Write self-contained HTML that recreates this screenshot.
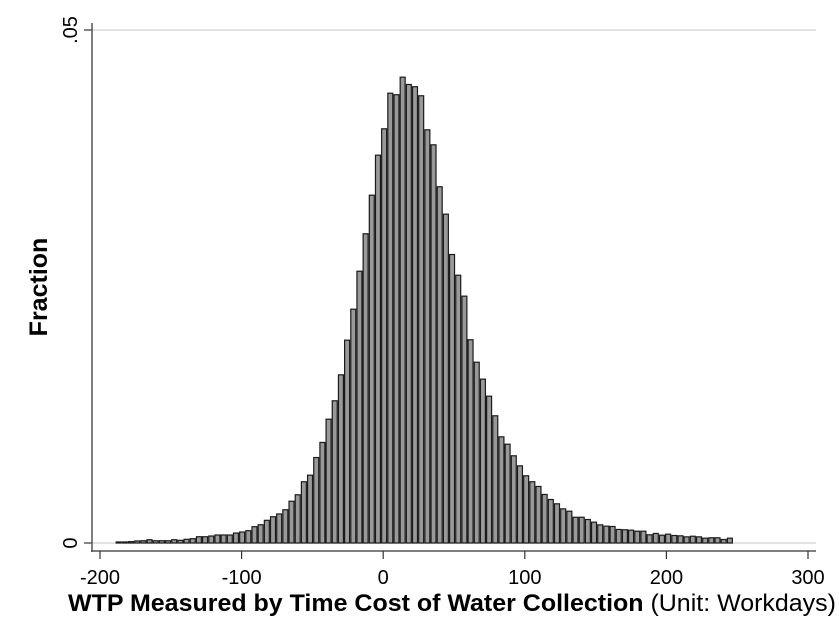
<!DOCTYPE html>
<html><head><meta charset="utf-8"><style>
body{margin:0;background:#fff;}
svg{display:block;font-family:"Liberation Sans",sans-serif;}
</style></head><body>
<svg id="chart" width="839" height="643" viewBox="0 0 839 643">
<rect x="0" y="0" width="839" height="643" fill="#fff"/>
<g id="grid"></g>
<g id="bars"></g>
<g id="axes"></g>
<text x="68" y="611" font-size="24.5" text-anchor="start" textLength="768" lengthAdjust="spacingAndGlyphs"><tspan font-weight="bold">WTP Measured by Time Cost of Water Collection</tspan> (Unit: Workdays)</text>
<text transform="translate(47,287) rotate(-90)" font-size="25" font-weight="bold" text-anchor="middle">Fraction</text>
</svg>
<script>
const binStart = -189;
const binWidth = 4.36;
const fractions = [.0001,.0001,.00013,.0002,.00022,.00032,.00022,.00022,.00022,.00032,.00026,.00036,.00042,.00061,.00061,.00068,.00078,.00078,.00078,.00097,.00107,.0012,.00159,.00178,.00221,.00256,.00283,
.00324,.00407,.0047,.00597,.00661,.00833,.0098,.01207,.01386,.01639,.01977,.02279,.02649,.03014,.0339,.0378,.04037,.04384,.04369,
.0454,.04469,.04447,.04359,.04027,.03881,.03472,.03205,.02812,.0261,.02406,.01981,.01762,.01597,.01431,.0124,.01035,.00963,.0085,.00752,.00655,
.00597,.00551,.00473,.00424,.00382,.00333,.0031,.00251,.00251,.00229,.00203,.00177,.00164,.00161,.00132,.00129,.00125,.00115,.00115,.0008,.00093,.00076,.00086,.00073,.0007,.0006,.00066,.0006,.00047,.00051,.00051,.00034,.00047];
const xTicks = [-200,-100,0,100,200,300];
const xTickLabels = ["-200","-100","0","100","200","300"];
const yTicks = [0,0.05];
const yTickLabels = ["0",".05"];

const NS="http://www.w3.org/2000/svg";
const X0=383.2, XS=1.416;
const xs=v=>X0+v*XS;
const Y0=543, YS=513/0.05;
const ys=v=>Y0-v*YS;
function mk(tag,attrs,parent){const e=document.createElementNS(NS,tag);for(const k in attrs)e.setAttribute(k,attrs[k]);parent.appendChild(e);return e;}
const grid=document.getElementById('grid'),bars=document.getElementById('bars'),axes=document.getElementById('axes');
yTicks.forEach((t,i)=>{
  const g=mk('line',{x1:92,x2:816,y1:ys(t),y2:ys(t),stroke:'#d0d0d0','stroke-width':1.2},grid);
  
  
  const tk=mk('line',{x1:84,x2:92,y1:ys(t),y2:ys(t),stroke:'#333','stroke-width':1.2},axes);
  
  
  const lb=mk('text',{transform:`translate(77,${ys(t)}) rotate(-90)`,'font-size':20,'text-anchor':'middle'},axes);
  lb.textContent=yTickLabels[i];
  
  
});
fractions.forEach((f,i)=>{
  const x=xs(binStart+i*binWidth);
  const w=binWidth*XS;
  const r=mk('rect',{x:x+0.6,y:ys(f),width:w-1.2,height:Y0-ys(f),fill:'#999',stroke:'#1a1a1a','stroke-width':1.2},bars);
  
  
});
const ya=mk('line',{x1:92,x2:92,y1:23,y2:552,stroke:'#555','stroke-width':1.5},axes);


const xa=mk('line',{x1:91,x2:816,y1:551,y2:551,stroke:'#555','stroke-width':1.5},axes);


xTicks.forEach((t,i)=>{
  const tk=mk('line',{x1:xs(t),x2:xs(t),y1:551,y2:559,stroke:'#333','stroke-width':1.2},axes);
  
  
  const lb=mk('text',{x:xs(t),y:584,'font-size':20,'text-anchor':'middle'},axes);
  lb.textContent=xTickLabels[i];
  
  
});
</script>
</body></html>
